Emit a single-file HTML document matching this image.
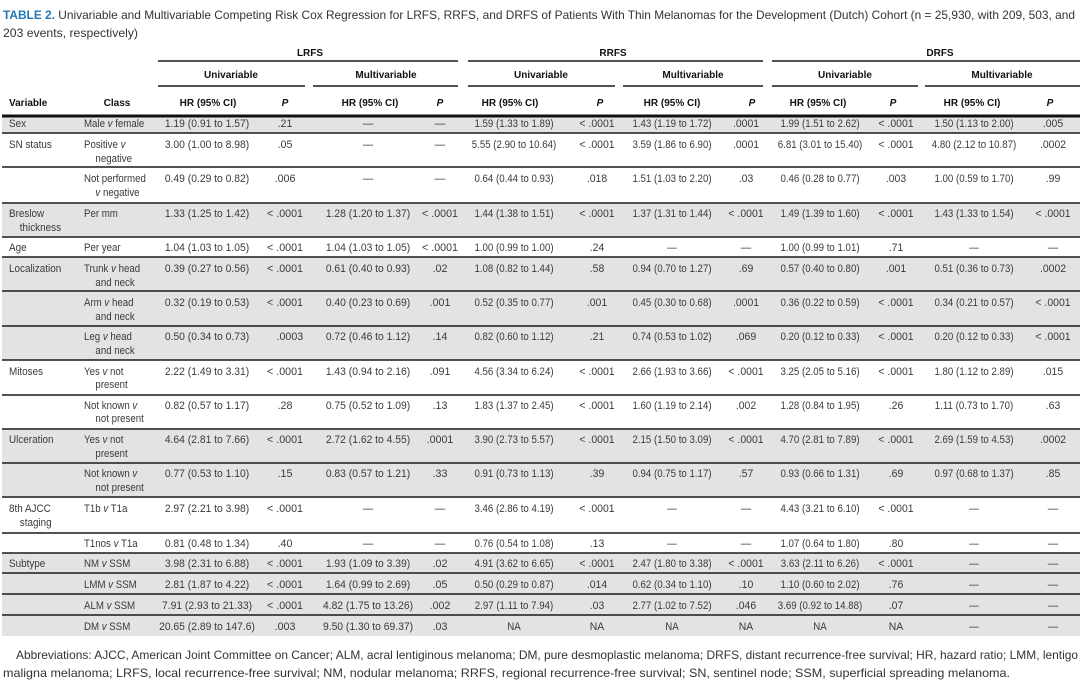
<!DOCTYPE html>
<html><head><meta charset="utf-8"><style>
html,body{margin:0;padding:0;background:#fff;}
svg{display:block;}
text{font-family:"Liberation Sans",sans-serif;font-size:11px;fill:#3a3a3a;}
.m text,.m{text-anchor:middle;}
.h{font-weight:bold;fill:#111;font-size:10px;}
.t{font-size:12px;fill:#333;}
.a{font-size:12px;fill:#333;}
.i{font-style:italic;}
.ln{stroke:#1a1a1a;stroke-width:1.6;}
</style></head><body>
<svg width="1080" height="684" viewBox="0 0 1080 684" xmlns="http://www.w3.org/2000/svg">
<g fill="#e3e3e3">
<rect x="2" y="117" width="1078" height="16"/>
<rect x="2" y="203" width="1078" height="34"/>
<rect x="2" y="257" width="1078" height="103"/>
<rect x="2" y="429" width="1078" height="68"/>
<rect x="2" y="553" width="1078" height="83"/>
</g>
<text class="t" x="3" y="19" textLength="1072" lengthAdjust="spacingAndGlyphs"><tspan font-weight="bold" style="fill:#2477b5">TABLE 2.</tspan> Univariable and Multivariable Competing Risk Cox Regression for LRFS, RRFS, and DRFS of Patients With Thin Melanomas for the Development (Dutch) Cohort (n = 25,930, with 209, 503, and</text>
<text class="t" x="3" y="37" textLength="135" lengthAdjust="spacingAndGlyphs">203 events, respectively)</text>
<text class="h m" x="310" y="56">LRFS</text>
<text class="h m" x="613" y="56">RRFS</text>
<text class="h m" x="940" y="56">DRFS</text>
<line class="ln" x1="158" y1="61" x2="458" y2="61"/>
<line class="ln" x1="468" y1="61" x2="763" y2="61"/>
<line class="ln" x1="772" y1="61" x2="1080" y2="61"/>
<text class="h m" x="231" y="78">Univariable</text>
<text class="h m" x="386" y="78">Multivariable</text>
<text class="h m" x="541" y="78">Univariable</text>
<text class="h m" x="693" y="78">Multivariable</text>
<text class="h m" x="845" y="78">Univariable</text>
<text class="h m" x="1002" y="78">Multivariable</text>
<line class="ln" x1="158" y1="86" x2="305" y2="86"/>
<line class="ln" x1="313" y1="86" x2="458" y2="86"/>
<line class="ln" x1="468" y1="86" x2="615" y2="86"/>
<line class="ln" x1="623" y1="86" x2="763" y2="86"/>
<line class="ln" x1="772" y1="86" x2="918" y2="86"/>
<line class="ln" x1="925" y1="86" x2="1080" y2="86"/>
<text class="h" x="9" y="106">Variable</text>
<text class="h m" x="117" y="106">Class</text>
<text class="h m" x="208" y="106">HR (95% CI)</text><text class="h m i" x="285" y="106">P</text>
<text class="h m" x="370" y="106">HR (95% CI)</text><text class="h m i" x="440" y="106">P</text>
<text class="h m" x="510" y="106">HR (95% CI)</text><text class="h m i" x="600" y="106">P</text>
<text class="h m" x="672" y="106">HR (95% CI)</text><text class="h m i" x="752" y="106">P</text>
<text class="h m" x="818" y="106">HR (95% CI)</text><text class="h m i" x="893" y="106">P</text>
<text class="h m" x="972" y="106">HR (95% CI)</text><text class="h m i" x="1050" y="106">P</text>
<rect x="2" y="114.5" width="1078" height="3" fill="#111"/>
<g class="ln">
<line x1="2" y1="133" x2="1080" y2="133"/>
<line x1="2" y1="167" x2="1080" y2="167"/>
<line x1="2" y1="203" x2="1080" y2="203"/>
<line x1="2" y1="237" x2="1080" y2="237"/>
<line x1="2" y1="257" x2="1080" y2="257"/>
<line x1="2" y1="291" x2="1080" y2="291"/>
<line x1="2" y1="326" x2="1080" y2="326"/>
<line x1="2" y1="360" x2="1080" y2="360"/>
<line x1="2" y1="395" x2="1080" y2="395"/>
<line x1="2" y1="429" x2="1080" y2="429"/>
<line x1="2" y1="463" x2="1080" y2="463"/>
<line x1="2" y1="497" x2="1080" y2="497"/>
<line x1="2" y1="533" x2="1080" y2="533"/>
<line x1="2" y1="553" x2="1080" y2="553"/>
<line x1="2" y1="573" x2="1080" y2="573"/>
<line x1="2" y1="594" x2="1080" y2="594"/>
<line x1="2" y1="615" x2="1080" y2="615"/>
</g>
<g transform="translate(9,0) scale(0.9,1)">
<text y="127">Sex</text>
<text y="148">SN status</text>
<text y="217">Breslow</text><text x="12" y="231">thickness</text>
<text y="251">Age</text>
<text y="272">Localization</text>
<text y="375">Mitoses</text>
<text y="443">Ulceration</text>
<text y="512">8th AJCC</text><text x="12" y="526">staging</text>
<text y="567">Subtype</text>
</g>
<g transform="translate(84,0) scale(0.88,1)">
<text y="127">Male <tspan class="i">v</tspan> female</text>
<text y="148">Positive <tspan class="i">v</tspan></text><text x="13" y="162">negative</text>
<text y="182">Not performed</text><text x="13" y="196"><tspan class="i">v</tspan> negative</text>
<text y="217">Per mm</text>
<text y="251">Per year</text>
<text y="272">Trunk <tspan class="i">v</tspan> head</text><text x="13" y="286">and neck</text>
<text y="306">Arm <tspan class="i">v</tspan> head</text><text x="13" y="320">and neck</text>
<text y="340">Leg <tspan class="i">v</tspan> head</text><text x="13" y="354">and neck</text>
<text y="375">Yes <tspan class="i">v</tspan> not</text><text x="13" y="388">present</text>
<text y="409">Not known <tspan class="i">v</tspan></text><text x="13" y="422">not present</text>
<text y="443">Yes <tspan class="i">v</tspan> not</text><text x="13" y="457">present</text>
<text y="477">Not known <tspan class="i">v</tspan></text><text x="13" y="491">not present</text>
<text y="512">T1b <tspan class="i">v</tspan> T1a</text>
<text y="547">T1nos <tspan class="i">v</tspan> T1a</text>
<text y="567">NM <tspan class="i">v</tspan> SSM</text>
<text y="588">LMM <tspan class="i">v</tspan> SSM</text>
<text y="609">ALM <tspan class="i">v</tspan> SSM</text>
<text y="630">DM <tspan class="i">v</tspan> SSM</text>
</g>
<g class="m" transform="translate(207,0) scale(0.94,1)">
<text y="127">1.19 (0.91 to 1.57)</text>
<text y="148">3.00 (1.00 to 8.98)</text>
<text y="182">0.49 (0.29 to 0.82)</text>
<text y="217">1.33 (1.25 to 1.42)</text>
<text y="251">1.04 (1.03 to 1.05)</text>
<text y="272">0.39 (0.27 to 0.56)</text>
<text y="306">0.32 (0.19 to 0.53)</text>
<text y="340">0.50 (0.34 to 0.73)</text>
<text y="375">2.22 (1.49 to 3.31)</text>
<text y="409">0.82 (0.57 to 1.17)</text>
<text y="443">4.64 (2.81 to 7.66)</text>
<text y="477">0.77 (0.53 to 1.10)</text>
<text y="512">2.97 (2.21 to 3.98)</text>
<text y="547">0.81 (0.48 to 1.34)</text>
<text y="567">3.98 (2.31 to 6.88)</text>
<text y="588">2.81 (1.87 to 4.22)</text>
<text y="609">7.91 (2.93 to 21.33)</text>
<text y="630">20.65 (2.89 to 147.6)</text>
</g>
<g class="m" transform="translate(285,0) scale(0.97,1)">
<text y="127">.21</text>
<text y="148">.05</text>
<text y="182">.006</text>
<text y="217">&lt; .0001</text>
<text y="251">&lt; .0001</text>
<text y="272">&lt; .0001</text>
<text y="306">&lt; .0001</text>
<text x="5" y="340">.0003</text>
<text y="375">&lt; .0001</text>
<text y="409">.28</text>
<text y="443">&lt; .0001</text>
<text y="477">.15</text>
<text y="512">&lt; .0001</text>
<text y="547">.40</text>
<text y="567">&lt; .0001</text>
<text y="588">&lt; .0001</text>
<text y="609">&lt; .0001</text>
<text y="630">.003</text>
</g>
<g class="m" transform="translate(368,0) scale(0.94,1)">
<text y="127">—</text>
<text y="148">—</text>
<text y="182">—</text>
<text y="217">1.28 (1.20 to 1.37)</text>
<text y="251">1.04 (1.03 to 1.05)</text>
<text y="272">0.61 (0.40 to 0.93)</text>
<text y="306">0.40 (0.23 to 0.69)</text>
<text y="340">0.72 (0.46 to 1.12)</text>
<text y="375">1.43 (0.94 to 2.16)</text>
<text y="409">0.75 (0.52 to 1.09)</text>
<text y="443">2.72 (1.62 to 4.55)</text>
<text y="477">0.83 (0.57 to 1.21)</text>
<text y="512">—</text>
<text y="547">—</text>
<text y="567">1.93 (1.09 to 3.39)</text>
<text y="588">1.64 (0.99 to 2.69)</text>
<text y="609">4.82 (1.75 to 13.26)</text>
<text y="630">9.50 (1.30 to 69.37)</text>
</g>
<g class="m" transform="translate(440,0) scale(0.97,1)">
<text y="127">—</text>
<text y="148">—</text>
<text y="182">—</text>
<text y="217">&lt; .0001</text>
<text y="251">&lt; .0001</text>
<text y="272">.02</text>
<text y="306">.001</text>
<text y="340">.14</text>
<text y="375">.091</text>
<text y="409">.13</text>
<text y="443">.0001</text>
<text y="477">.33</text>
<text y="512">—</text>
<text y="547">—</text>
<text y="567">.02</text>
<text y="588">.05</text>
<text y="609">.002</text>
<text y="630">.03</text>
</g>
<g class="m" transform="translate(514,0) scale(0.88,1)">
<text y="127">1.59 (1.33 to 1.89)</text>
<text y="148">5.55 (2.90 to 10.64)</text>
<text y="182">0.64 (0.44 to 0.93)</text>
<text y="217">1.44 (1.38 to 1.51)</text>
<text y="251">1.00 (0.99 to 1.00)</text>
<text y="272">1.08 (0.82 to 1.44)</text>
<text y="306">0.52 (0.35 to 0.77)</text>
<text y="340">0.82 (0.60 to 1.12)</text>
<text y="375">4.56 (3.34 to 6.24)</text>
<text y="409">1.83 (1.37 to 2.45)</text>
<text y="443">3.90 (2.73 to 5.57)</text>
<text y="477">0.91 (0.73 to 1.13)</text>
<text y="512">3.46 (2.86 to 4.19)</text>
<text y="547">0.76 (0.54 to 1.08)</text>
<text y="567">4.91 (3.62 to 6.65)</text>
<text y="588">0.50 (0.29 to 0.87)</text>
<text y="609">2.97 (1.11 to 7.94)</text>
<text y="630">NA</text>
</g>
<g class="m" transform="translate(597,0) scale(0.95,1)">
<text y="127">&lt; .0001</text>
<text y="148">&lt; .0001</text>
<text y="182">.018</text>
<text y="217">&lt; .0001</text>
<text y="251">.24</text>
<text y="272">.58</text>
<text y="306">.001</text>
<text y="340">.21</text>
<text y="375">&lt; .0001</text>
<text y="409">&lt; .0001</text>
<text y="443">&lt; .0001</text>
<text y="477">.39</text>
<text y="512">&lt; .0001</text>
<text y="547">.13</text>
<text y="567">&lt; .0001</text>
<text y="588">.014</text>
<text y="609">.03</text>
<text y="630">NA</text>
</g>
<g class="m" transform="translate(672,0) scale(0.88,1)">
<text y="127">1.43 (1.19 to 1.72)</text>
<text y="148">3.59 (1.86 to 6.90)</text>
<text y="182">1.51 (1.03 to 2.20)</text>
<text y="217">1.37 (1.31 to 1.44)</text>
<text y="251">—</text>
<text y="272">0.94 (0.70 to 1.27)</text>
<text y="306">0.45 (0.30 to 0.68)</text>
<text y="340">0.74 (0.53 to 1.02)</text>
<text y="375">2.66 (1.93 to 3.66)</text>
<text y="409">1.60 (1.19 to 2.14)</text>
<text y="443">2.15 (1.50 to 3.09)</text>
<text y="477">0.94 (0.75 to 1.17)</text>
<text y="512">—</text>
<text y="547">—</text>
<text y="567">2.47 (1.80 to 3.38)</text>
<text y="588">0.62 (0.34 to 1.10)</text>
<text y="609">2.77 (1.02 to 7.52)</text>
<text y="630">NA</text>
</g>
<g class="m" transform="translate(746,0) scale(0.95,1)">
<text y="127">.0001</text>
<text y="148">.0001</text>
<text y="182">.03</text>
<text y="217">&lt; .0001</text>
<text y="251">—</text>
<text y="272">.69</text>
<text y="306">.0001</text>
<text y="340">.069</text>
<text y="375">&lt; .0001</text>
<text y="409">.002</text>
<text y="443">&lt; .0001</text>
<text y="477">.57</text>
<text y="512">—</text>
<text y="547">—</text>
<text y="567">&lt; .0001</text>
<text y="588">.10</text>
<text y="609">.046</text>
<text y="630">NA</text>
</g>
<g class="m" transform="translate(820,0) scale(0.88,1)">
<text y="127">1.99 (1.51 to 2.62)</text>
<text y="148">6.81 (3.01 to 15.40)</text>
<text y="182">0.46 (0.28 to 0.77)</text>
<text y="217">1.49 (1.39 to 1.60)</text>
<text y="251">1.00 (0.99 to 1.01)</text>
<text y="272">0.57 (0.40 to 0.80)</text>
<text y="306">0.36 (0.22 to 0.59)</text>
<text y="340">0.20 (0.12 to 0.33)</text>
<text y="375">3.25 (2.05 to 5.16)</text>
<text y="409">1.28 (0.84 to 1.95)</text>
<text y="443">4.70 (2.81 to 7.89)</text>
<text y="477">0.93 (0.66 to 1.31)</text>
<text y="512">4.43 (3.21 to 6.10)</text>
<text y="547">1.07 (0.64 to 1.80)</text>
<text y="567">3.63 (2.11 to 6.26)</text>
<text y="588">1.10 (0.60 to 2.02)</text>
<text y="609">3.69 (0.92 to 14.88)</text>
<text y="630">NA</text>
</g>
<g class="m" transform="translate(896,0) scale(0.95,1)">
<text y="127">&lt; .0001</text>
<text y="148">&lt; .0001</text>
<text y="182">.003</text>
<text y="217">&lt; .0001</text>
<text y="251">.71</text>
<text y="272">.001</text>
<text y="306">&lt; .0001</text>
<text y="340">&lt; .0001</text>
<text y="375">&lt; .0001</text>
<text y="409">.26</text>
<text y="443">&lt; .0001</text>
<text y="477">.69</text>
<text y="512">&lt; .0001</text>
<text y="547">.80</text>
<text y="567">&lt; .0001</text>
<text y="588">.76</text>
<text y="609">.07</text>
<text y="630">NA</text>
</g>
<g class="m" transform="translate(974,0) scale(0.88,1)">
<text y="127">1.50 (1.13 to 2.00)</text>
<text y="148">4.80 (2.12 to 10.87)</text>
<text y="182">1.00 (0.59 to 1.70)</text>
<text y="217">1.43 (1.33 to 1.54)</text>
<text y="251">—</text>
<text y="272">0.51 (0.36 to 0.73)</text>
<text y="306">0.34 (0.21 to 0.57)</text>
<text y="340">0.20 (0.12 to 0.33)</text>
<text y="375">1.80 (1.12 to 2.89)</text>
<text y="409">1.11 (0.73 to 1.70)</text>
<text y="443">2.69 (1.59 to 4.53)</text>
<text y="477">0.97 (0.68 to 1.37)</text>
<text y="512">—</text>
<text y="547">—</text>
<text y="567">—</text>
<text y="588">—</text>
<text y="609">—</text>
<text y="630">—</text>
</g>
<g class="m" transform="translate(1053,0) scale(0.95,1)">
<text y="127">.005</text>
<text y="148">.0002</text>
<text y="182">.99</text>
<text y="217">&lt; .0001</text>
<text y="251">—</text>
<text y="272">.0002</text>
<text y="306">&lt; .0001</text>
<text y="340">&lt; .0001</text>
<text y="375">.015</text>
<text y="409">.63</text>
<text y="443">.0002</text>
<text y="477">.85</text>
<text y="512">—</text>
<text y="547">—</text>
<text y="567">—</text>
<text y="588">—</text>
<text y="609">—</text>
<text y="630">—</text>
</g>
<text class="a" x="16" y="659" textLength="1062" lengthAdjust="spacingAndGlyphs">Abbreviations: AJCC, American Joint Committee on Cancer; ALM, acral lentiginous melanoma; DM, pure desmoplastic melanoma; DRFS, distant recurrence-free survival; HR, hazard ratio; LMM, lentigo</text>
<text class="a" x="3" y="677" textLength="1007" lengthAdjust="spacingAndGlyphs">maligna melanoma; LRFS, local recurrence-free survival; NM, nodular melanoma; RRFS, regional recurrence-free survival; SN, sentinel node; SSM, superficial spreading melanoma.</text>
</svg>
</body></html>
